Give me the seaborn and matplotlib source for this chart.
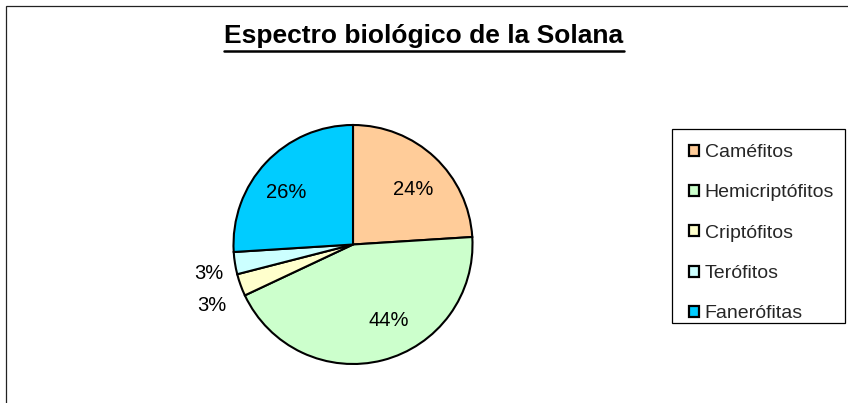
import numpy as np
import matplotlib
matplotlib.use("Agg")
import matplotlib.pyplot as plt
from matplotlib.patches import Patch, Rectangle
from matplotlib.lines import Line2D
from matplotlib.transforms import ScaledTranslation
import seaborn as sns

# Life-form spectrum of the sunny slope
categories = ["Caméfitos", "Hemicriptófitos", "Criptófitos", "Terófitos", "Fanerófitas"]
shares = [24, 44, 3, 3, 26]
slice_colors = ["#FFCC99", "#CCFFCC", "#FFFFCC", "#CCFFFF", "#00CCFF"]
title = "Espectro biológico de la Solana"

sns.set_theme(style="white")
plt.rcParams["font.family"] = ["Liberation Sans", "DejaVu Sans"]

W, H, DPI = 848, 403, 100
fig = plt.figure(figsize=(W / DPI, H / DPI), dpi=DPI)
fig.patch.set_facecolor("white")

# chart-area border (only top and left edges fall inside the canvas)
fig.add_artist(Rectangle((5.5 / W, -0.1), 1.2, 1.1 - 6 / H,
                         transform=fig.transFigure, fill=False,
                         edgecolor="#222222", linewidth=0.9))

# pie axes: centre (353, 244.5) px, radius 119.5 px
cx, cy, r = 353, 244.5, 119.5
pad = 1.02
ax = fig.add_axes([(cx - r * pad) / W, (H - cy - r * pad) / H,
                   2 * r * pad / W, 2 * r * pad / H])
palette = sns.color_palette(slice_colors)
wedges, _ = ax.pie(shares, colors=palette, startangle=90, counterclock=False,
                   radius=1.0,
                   wedgeprops=dict(edgecolor="black", linewidth=1.5))
ax.set_xlim(-pad, pad)
ax.set_ylim(-pad, pad)
ax.set_aspect("equal")
ax.axis("off")

# percentage labels: radius and angular nudge per slice
label_r = [0.69, 0.69, 1.29, 1.23, 0.72]
label_dtheta = [-3.5, 11.0, 3.5, 2.5, 3.9]
shift_down = ScaledTranslation(0, -2 / DPI, fig.dpi_scale_trans)
for w, val, lr, dt in zip(wedges, shares, label_r, label_dtheta):
    mid = np.deg2rad((w.theta1 + w.theta2) / 2 + dt)
    tr = ax.transData + shift_down if lr < 1 else ax.transData
    ax.text(lr * np.cos(mid), lr * np.sin(mid), f"{val}%",
            ha="center", va="center", fontsize=14.5, color="black",
            clip_on=False, transform=tr)

# title with underline
t = fig.text(0.5, 1 - 43 / H, title, ha="center", va="baseline",
             fontsize=19, fontweight="bold", color="black")
fig.canvas.draw()
bb = t.get_window_extent(renderer=fig.canvas.get_renderer())
uy = (H - 51) / H
fig.add_artist(Line2D([bb.x0 / W, bb.x1 / W], [uy, uy], transform=fig.transFigure,
                      color="black", linewidth=1.8))

# legend entries, with a separate box drawn around them
handles = [Patch(facecolor=c, edgecolor="black", linewidth=1.6) for c in palette]
leg = fig.legend(handles, categories, loc="upper left",
                 bbox_to_anchor=(689 / W, 1 - 144 / H),
                 frameon=False, fontsize=14, handlelength=0.5, handleheight=0.5,
                 handletextpad=0.3, labelspacing=1.2, borderpad=0.0,
                 borderaxespad=0.0)
fig.add_artist(Rectangle((672 / W, 1 - 323 / H), 173 / W, 194 / H,
                         transform=fig.transFigure, fill=False,
                         edgecolor="black", linewidth=0.9))

fig.savefig("out.png", dpi=DPI, facecolor="white")
